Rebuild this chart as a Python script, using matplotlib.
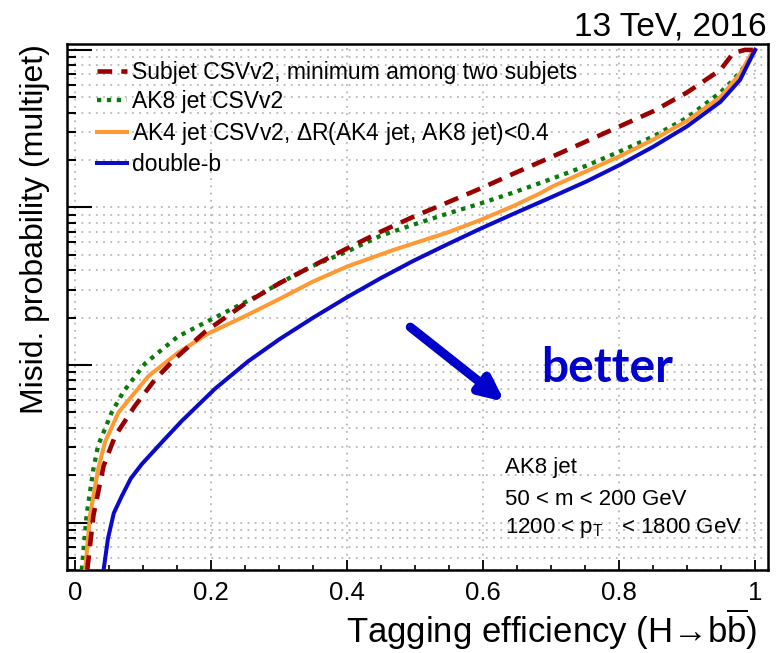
import matplotlib
matplotlib.use("Agg")
import matplotlib.pyplot as plt
from matplotlib.ticker import LogLocator, MultipleLocator, NullFormatter, FuncFormatter

plt.rcParams["font.family"] = ["Liberation Sans", "DejaVu Sans"]
plt.rcParams["mathtext.fontset"] = "custom"
plt.rcParams["mathtext.rm"] = "Liberation Sans"
plt.rcParams["mathtext.it"] = "Liberation Sans:italic"
plt.rcParams["mathtext.default"] = "regular"

# ROC curves: signal efficiency vs. mis-identification probability
eff_subjet = [0.018, 0.027, 0.042, 0.059, 0.088, 0.118, 0.147, 0.191, 0.25, 0.301,
              0.35, 0.40, 0.449, 0.497, 0.547, 0.596, 0.645, 0.703, 0.752, 0.801,
              0.85, 0.90, 0.949, 0.968, 0.985, 1.0]
mis_subjet = [5.01e-4, 1.107e-3, 2.291e-3, 3.548e-3, 5.495e-3, 8.128e-3, 0.01096, 0.01622,
              0.02455, 0.03311, 0.04266, 0.05495, 0.06998, 0.08710, 0.1072, 0.1318,
              0.1641, 0.2113, 0.2630, 0.3273, 0.4074, 0.5370, 0.7464, 0.9550, 1.0, 1.0]

eff_ak8 = [0.010, 0.017, 0.027, 0.034, 0.054, 0.071, 0.103, 0.151, 0.196, 0.269,
           0.301, 0.35, 0.40, 0.449, 0.497, 0.547, 0.596, 0.645, 0.703, 0.752,
           0.801, 0.85, 0.90, 0.949, 0.968, 0.993, 1.0]
mis_ak8 = [5.01e-4, 1.107e-3, 2.188e-3, 3.090e-3, 5.012e-3, 6.761e-3, 0.01023, 0.01514,
           0.01905, 0.02754, 0.03311, 0.04266, 0.05248, 0.06607, 0.07762, 0.09120,
           0.1059, 0.1245, 0.1531, 0.1841, 0.2265, 0.2818, 0.3715, 0.5370, 0.6457,
           0.8710, 1.0]

eff_ak4 = [0.015, 0.022, 0.034, 0.044, 0.064, 0.108, 0.152, 0.196, 0.25, 0.301,
           0.35, 0.40, 0.468, 0.547, 0.596, 0.645, 0.684, 0.703, 0.752, 0.801,
           0.85, 0.90, 0.949, 0.978, 0.995, 1.0]
mis_ak4 = [5.01e-4, 1.107e-3, 2.188e-3, 3.236e-3, 5.012e-3, 8.511e-3, 0.01202, 0.01585,
           0.02042, 0.02630, 0.03388, 0.04217, 0.05370, 0.06918, 0.08318, 0.1023,
           0.1230, 0.1365, 0.1698, 0.2113, 0.2692, 0.3548, 0.5012, 0.7079, 0.9550, 1.0]

eff_doubleb = [0.042, 0.0485, 0.057, 0.069, 0.082, 0.098, 0.132, 0.157, 0.206, 0.255,
               0.301, 0.35, 0.40, 0.449, 0.497, 0.547, 0.596, 0.645, 0.703, 0.752,
               0.801, 0.85, 0.90, 0.949, 0.978, 0.9975, 1.0]
mis_doubleb = [5.01e-4, 7.94e-4, 1.148e-3, 1.479e-3, 1.905e-3, 2.344e-3, 3.388e-3,
               4.416e-3, 7.079e-3, 0.01059, 0.01462, 0.01995, 0.02692, 0.03548, 0.04571,
               0.05821, 0.07328, 0.09120, 0.1175, 0.1462, 0.1862, 0.2427, 0.3273, 0.4677,
               0.6457, 0.9550, 1.0]

labels = ["Subjet CSVv2, minimum among two subjets",
          "AK8 jet CSVv2",
          r"AK4 jet CSVv2, $\Delta$R(AK4 jet, AK8 jet)<0.4",
          "double-b"]

W, H = 776, 653
fig = plt.figure(figsize=(W / 100, H / 100), dpi=100)
ax_l, ax_r, ax_t, ax_b = 67, 768, 44, 570
ax = fig.add_axes([ax_l / W, 1 - ax_b / H, (ax_r - ax_l) / W, (ax_b - ax_t) / H])

ax.plot(eff_subjet, mis_subjet, color="#9b0000", lw=3.3, ls=(0, (3.2, 2.0)),
        label=labels[0], zorder=4)
ax.plot(eff_ak8, mis_ak8, color="#0b7a0b", lw=3.1, ls=(0, (1.0, 1.3)),
        label=labels[1], zorder=3)
ax.plot(eff_ak4, mis_ak4, color="#ff9933", lw=2.9, label=labels[2], zorder=3)
ax.plot(eff_doubleb, mis_doubleb, color="#0a0ac8", lw=2.9, label=labels[3], zorder=3)

ax.set_yscale("log")
ax.set_xlim(-0.0118, 1.019)
ax.set_ylim(5e-4, 1.09)

ax.xaxis.set_major_locator(MultipleLocator(0.2))
ax.xaxis.set_minor_locator(MultipleLocator(0.05))
ax.xaxis.set_major_formatter(FuncFormatter(
    lambda v, p: "0" if abs(v) < 1e-9 else ("1" if abs(v - 1) < 1e-9 else f"{v:.1f}")))
ax.yaxis.set_major_locator(LogLocator(base=10, numticks=10))
ax.yaxis.set_minor_locator(LogLocator(base=10, subs=range(2, 10), numticks=20))
ax.yaxis.set_major_formatter(NullFormatter())
ax.yaxis.set_minor_formatter(NullFormatter())

ax.tick_params(axis="x", which="major", direction="in", length=7, width=1.3,
               labelsize=18.5, pad=8)
ax.tick_params(axis="x", which="minor", direction="in", length=3.5, width=1.2)
ax.tick_params(axis="y", which="major", direction="in", length=18, width=1.5)
ax.tick_params(axis="y", which="minor", direction="in", length=6.5, width=1.5)

ax.grid(True, which="major", axis="x", color="#b8b8b8", ls=(0, (1, 3)), lw=1.3)
ax.grid(True, which="both", axis="y", color="#b8b8b8", ls=(0, (1, 3)), lw=1.3)
ax.set_axisbelow(True)
for s in ax.spines.values():
    s.set_linewidth(1.8)

ax.set_xlabel("Tagging efficiency (H\u2192b$\\overline{\\mathrm{b}}$)",
              fontsize=25, loc="right")
ax.xaxis.set_label_coords((757 - ax_l) / (ax_r - ax_l), -0.07)
ax.set_ylabel("Misid. probability (multijet)", fontsize=23, loc="top")
ax.yaxis.set_label_coords(-0.0243, 1.0)

leg = ax.legend(loc="upper left", bbox_to_anchor=(0.03, 0.985), frameon=False,
                fontsize=16.5, handlelength=1.3, handletextpad=0.2,
                labelspacing=0.28, borderaxespad=0)

fig.text(767 / W, 1 - 35 / H, "13 TeV, 2016", ha="right", va="baseline", fontsize=24)

ax.text(0.625, 0.184, "AK8 jet", transform=ax.transAxes, fontsize=16, va="baseline")
ax.text(0.625, 0.1236, "50 < m < 200 GeV", transform=ax.transAxes, fontsize=16,
        va="baseline")
ax.text(0.625, 0.0703, "1200 < p$_{\\mathrm{T}}$   < 1800 GeV", transform=ax.transAxes,
        fontsize=16, va="baseline")

ax.annotate("", xy=(0.632, 0.00583), xytext=(0.493, 0.0174),
            arrowprops=dict(arrowstyle="-|>,head_length=1.4,head_width=0.65",
                            color="#0000cc", lw=6.5, shrinkA=0, shrinkB=0))
ax.text(0.685, 0.0078, "better", color="#0000cc", fontsize=34.5, fontweight="bold",
        family="Lato", va="baseline")

fig.savefig("out.png", dpi=100)
